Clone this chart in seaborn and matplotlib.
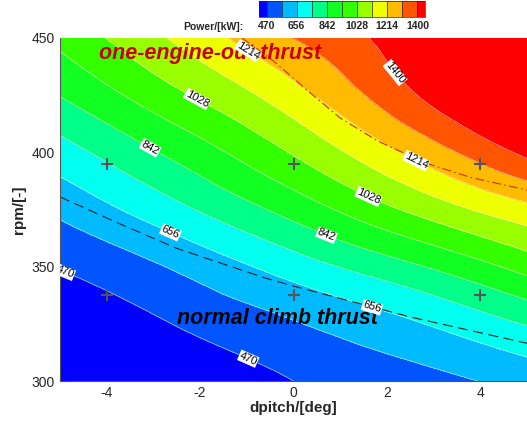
import numpy as np
import pandas as pd
import matplotlib
matplotlib.use('Agg')
import matplotlib.pyplot as plt
import matplotlib.tri as mtri
from matplotlib.ticker import MultipleLocator
import seaborn as sns

# power field (kW), one row per dpitch value
dpitch = [-5, -2.5, 0, 2.5, 5]
rpm = [300, 325, 350, 375, 400, 425, 450]
power = [
    [290, 378, 476, 584, 710, 845, 960],
    [376, 474, 575, 726, 867, 1010, 1135],
    [470, 556, 701, 878, 1036, 1179, 1308],
    [525, 644, 826, 1042, 1231, 1388, 1455],
    [595, 755, 971, 1185, 1423, 1580, 1660],
]
levels = [470, 563, 656, 749, 842, 935, 1028, 1121, 1214, 1307, 1400]
label_levels = [470, 656, 842, 1028, 1214, 1400]
band_colors = ['#0000ff', '#0055ff', '#00bbff', '#00ffee', '#00ff88', '#11ff22',
               '#33ff00', '#99ff00', '#eeff00', '#ffbb00', '#ff5500', '#ff0000']

# sample points (+)
pts_dpitch = [-4, 0, 4, -4, 0, 4]
pts_rpm = [395, 395, 395, 337.5, 337.5, 337.5]

# normal climb thrust line
climb_dpitch = [-5, -3.75, -2.5, -0.6, 0, 2.5, 5]
climb_rpm = [380.5, 369, 358, 345, 341.5, 328, 316.5]

# one-engine-out thrust line
oeo_dpitch = [-1.1, -0.4, 0.3, 1.0, 1.8, 2.8, 3.8, 5]
oeo_rpm = [450, 439.5, 427, 415, 405, 395.5, 389, 383.5]

sns.set_theme(style='ticks')
plt.rcParams['font.family'] = ['Liberation Sans', 'DejaVu Sans']
plt.rcParams['axes.unicode_minus'] = False

fig = plt.figure(figsize=(5.27, 4.23), dpi=100)
ax = fig.add_axes([60/527, 42/423, 467/527, 343/423])

X, Y = np.meshgrid(dpitch, rpm, indexing='ij')
tri = mtri.Triangulation(X.ravel(), Y.ravel())
z = np.array(power, dtype=float).ravel()
tri_f, z_f = mtri.UniformTriRefiner(tri).refine_field(z, subdiv=4)

cf = ax.tricontourf(tri_f, z_f, levels=levels, colors=band_colors, extend='both')
other_levels = [v for v in levels if v not in label_levels]
ax.tricontour(tri_f, z_f, levels=other_levels, colors='#f0f0f0', linewidths=0.5, alpha=0.7)
cs = ax.tricontour(tri_f, z_f, levels=label_levels, colors='#f0f0f0', linewidths=0.5, alpha=0.7)

label_pos = [(-4.86, 349.4), (-1.0, 308.3), (-2.63, 365.2), (1.65, 330.2),
             (-3.1, 401), (0.68, 362.5), (-2.1, 422), (1.6, 380.5),
             (-1.03, 442.6), (2.6, 395.3), (2.03, 432.5)]
lbls = ax.clabel(cs, manual=label_pos, fmt='%d', fontsize=8,
                 colors='black', inline=True, inline_spacing=1)
for t in lbls:
    t.set_alpha(1)
    t.set_color('black')
    t.set_bbox(dict(facecolor='white', edgecolor='none', pad=0.5))

climb = pd.DataFrame({'dpitch': climb_dpitch, 'rpm': climb_rpm})
oeo = pd.DataFrame({'dpitch': oeo_dpitch, 'rpm': oeo_rpm})
sns.lineplot(data=climb, x='dpitch', y='rpm', sort=False, estimator=None,
             color='#222222', lw=0.8, ax=ax)
ax.lines[-1].set_dashes((9, 5))
sns.lineplot(data=oeo, x='dpitch', y='rpm', sort=False, estimator=None,
             color='#cc3300', lw=0.8, ax=ax)
ax.lines[-1].set_dashes((8, 3, 1.5, 3))

sns.scatterplot(x=pts_dpitch, y=pts_rpm, marker='+', s=70, color='#555555',
                linewidth=1.5, ax=ax, zorder=5)

ax.text(-4.17, 443.4, 'one-engine-out thrust', color='#cc0000', fontsize=15.5,
        fontweight='bold', fontstyle='italic', ha='left', va='center')
ax.text(-2.5, 327.5, 'normal climb thrust', color='black', fontsize=15.5,
        fontweight='bold', fontstyle='italic', ha='left', va='center')

ax.set_xlim(-5, 5)
ax.set_ylim(300, 450)
ax.xaxis.set_major_locator(MultipleLocator(2))
ax.xaxis.set_minor_locator(MultipleLocator(0.5))
ax.yaxis.set_major_locator(MultipleLocator(50))
ax.yaxis.set_minor_locator(MultipleLocator(10))
ax.tick_params(which='both', direction='in', color='#444444', labelsize=10)
ax.tick_params(which='major', length=8, width=0.8)
ax.tick_params(which='minor', length=4, width=0.6)
ax.set_xlabel('dpitch/[deg]', fontsize=11, fontweight='bold', labelpad=1)
ax.set_ylabel('rpm/[-]', fontsize=11, fontweight='bold', labelpad=4)
for s in ['top', 'right']:
    ax.spines[s].set_visible(False)
for s in ['left', 'bottom']:
    ax.spines[s].set_color('#555555')
    ax.spines[s].set_linewidth(0.8)
ax.set_zorder(2)

cax = fig.add_axes([259/527, 1 - 17/423, 166/527, 16/423])
cb = fig.colorbar(cf, cax=cax, orientation='horizontal', extendrect=True,
                  extendfrac=0.05, drawedges=True, ticks=label_levels)
cb.outline.set_linewidth(0.5)
cb.dividers.set_linewidth(0.5)
cb.ax.tick_params(length=0, labelsize=7.5, pad=3)
for t in cb.ax.get_xticklabels():
    t.set_fontweight('bold')
fig.text(183/527, 1 - 27/423, 'Power/[kW]:', fontsize=7.5, fontweight='bold',
         ha='left', va='center')

fig.savefig('out.png', dpi=100)
